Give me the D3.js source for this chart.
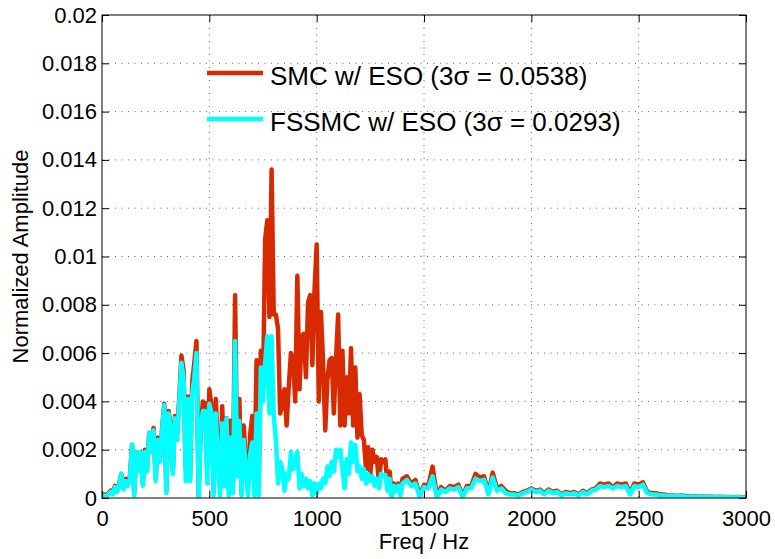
<!DOCTYPE html>
<html lang="en">
<head>
    <meta charset="utf-8">
    <title>Spectrum</title>
    <style type="text/css">
        body { margin: 0; background: #fff; }
        svg { font-family: "Liberation Sans", Arial, sans-serif; }
    </style>
</head>
<body>
   <svg class="svg_spec" width="775" height="559"></svg>

   <script src="https://d3js.org/d3.v7.min.js"></script>
   <script>
        // x grid: 10 Hz steps up to 1400 Hz, 20 Hz steps after that
        var freqLow = d3.range(0, 1400, 10),
            freqHigh = d3.range(1400, 3001, 20);

        // amplitudes in units of 1e-3
        var smcLow = [
            0.1,0.15,0.1,0.2,0.3,0.2,0.5,0.3,0.6,1.0,
            0.4,0.8,0.6,0.9,2.2,0.2,1.9,1.2,1.9,0.6,
            2.0,1.2,2.7,2.0,2.9,0.8,2.5,1.6,2.9,3.9,
            0.3,3.6,3.0,1.1,3.4,2.6,4.2,5.9,5.3,1.2,
            4.2,0.8,4.8,5.6,6.5,0.1,3.0,4.0,3.9,1.2,
            4.5,3.8,0.3,4.1,2.0,0.5,3.8,1.0,3.3,0.4,
            3.2,0.5,8.4,1.2,4.1,0.2,3.0,1.5,0.4,2.6,
            3.4,0.6,5.7,0.4,6.1,4.5,10.7,11.5,7.5,13.6,
            7.6,7.6,7.0,3.5,3.9,4.5,3.0,4.6,6.0,5.8,
            4.0,9.2,4.5,6.7,6.8,5.0,8.1,8.4,5.5,8.6,
            10.5,4.0,7.7,5.6,2.8,4.9,5.7,5.8,3.5,5.7,
            7.6,3.0,6.1,3.0,5.0,3.5,6.2,3.0,5.4,2.5,
            4.3,2.6,2.4,1.2,2.1,1.0,2.0,1.5,1.7,0.6,
            1.6,1.5,1.6,0.5,1.1,0.1,0.6,0.4,0.6,0.2
        ];
        var smcHigh = [
            0.8,0.9,0.6,0.75,0.1,0.55,0.5,1.3,0.1,0.45,
            0.3,0.5,0.45,0.55,0.1,0.5,0.5,1.0,0.85,0.9,
            0.2,1.05,0.4,0.5,0.3,0.2,0.2,0.15,0.25,0.3,
            0.4,0.3,0.35,0.2,0.35,0.25,0.3,0.15,0.25,0.2,
            0.25,0.15,0.3,0.2,0.35,0.4,0.6,0.55,0.6,0.45,
            0.6,0.55,0.6,0.2,0.6,0.55,0.65,0.25,0.2,0.2,
            0.15,0.15,0.1,0.1,0.08,0.1,0.08,0.06,0.08,0.05,
            0.06,0.05,0.05,0.04,0.05,0.04,0.04,0.03,0.04,0.03,
            0.03
        ];
        var fssmcLow = [
            0.05,0.1,0.05,0.15,0.25,0.15,0.45,0.25,0.55,1.0,
            0.35,0.7,0.5,0.8,2.2,0.1,1.9,1.1,1.9,0.5,
            1.9,1.1,2.7,1.9,2.8,0.7,2.4,1.5,2.8,3.85,
            0.2,3.5,2.9,1.0,3.3,2.4,4.0,5.6,5.0,0.7,
            4.1,0.7,4.3,5.0,6.0,0.0,2.9,3.6,3.6,0.6,
            3.9,3.5,0.1,3.5,1.5,0.1,3.1,0.5,3.3,0.1,
            2.5,0.2,6.5,0.9,3.2,0.1,2.4,1.2,0.1,1.8,
            2.3,0.1,3.5,0.1,5.4,4.0,5.6,6.7,3.5,6.7,
            3.4,2.4,0.6,1.5,1.2,0.3,1.0,0.8,1.9,1.2,
            1.6,1.9,0.4,1.0,0.5,0.8,0.4,0.7,0.1,0.6,
            0.2,0.6,0.4,0.8,0.6,1.3,0.9,1.5,1.1,2.0,
            1.7,2.0,1.2,0.4,1.6,1.0,2.3,1.5,2.2,1.1,
            1.3,0.8,1.2,0.6,1.0,0.7,0.9,0.5,0.8,0.4,
            1.0,0.9,0.95,0.3,0.8,0.0,0.5,0.3,0.5,0.1
        ];
        var fssmcHigh = [
            0.6,0.75,0.5,0.6,0.05,0.45,0.4,0.9,0.05,0.35,
            0.25,0.4,0.35,0.45,0.05,0.4,0.4,0.8,0.7,0.75,
            0.15,0.85,0.3,0.4,0.2,0.15,0.15,0.1,0.2,0.25,
            0.35,0.25,0.3,0.15,0.3,0.2,0.25,0.1,0.2,0.15,
            0.2,0.1,0.25,0.15,0.3,0.35,0.5,0.45,0.5,0.4,
            0.5,0.45,0.5,0.15,0.5,0.45,0.55,0.2,0.15,0.15,
            0.1,0.1,0.08,0.08,0.06,0.08,0.06,0.05,0.06,0.04,
            0.05,0.04,0.04,0.03,0.04,0.03,0.03,0.02,0.03,0.02,
            0.02
        ];

        var xTicks = [0, 500, 1000, 1500, 2000, 2500, 3000];
        var yTicks = [0, 0.002, 0.004, 0.006, 0.008, 0.01, 0.012, 0.014, 0.016, 0.018, 0.02];
        var legendLabels = ['SMC w/ ESO (3\u03c3 = 0.0538)', 'FSSMC w/ ESO (3\u03c3 = 0.0293)'];
        var colors = ['#d82a00', '#00ffff'];

        // build point lists
        function toPoints(lo, hi) {
            var pts = freqLow.map(function(f, i) { return [f, lo[i] / 1000]; });
            return pts.concat(freqHigh.map(function(f, i) { return [f, hi[i] / 1000]; }));
        }
        var series = [toPoints(smcLow, smcHigh), toPoints(fssmcLow, fssmcHigh)];

        var svg = d3.select('.svg_spec'),
            padding = {top: 15, right: 29, bottom: 61, left: 102},
            w = 775 - padding.left - padding.right,
            h = 559 - padding.top - padding.bottom;

        var g = svg.append('g')
            .attr('transform', 'translate(' + padding.left + ',' + padding.top + ')');

        var x = d3.scaleLinear().domain([0, 3000]).range([0, w]);
        var y = d3.scaleLinear().domain([0, 0.02]).range([h, 0]);

        // dotted grid
        g.append('g').selectAll('line').data(xTicks.slice(1, -1)).enter().append('line')
            .attr('x1', x).attr('x2', x).attr('y1', 0).attr('y2', h)
            .attr('stroke', '#666').attr('stroke-dasharray', '1,5.5');
        g.append('g').selectAll('line').data(yTicks.slice(1, -1)).enter().append('line')
            .attr('y1', y).attr('y2', y).attr('x1', 0).attr('x2', w)
            .attr('stroke', '#666').attr('stroke-dasharray', '1,5.5');

        g.append('clipPath').attr('id', 'clip')
            .append('rect').attr('width', w).attr('height', h);

        var line = d3.line()
            .x(function(d) { return x(d[0]); })
            .y(function(d) { return y(d[1]); });

        g.append('g').attr('clip-path', 'url(#clip)')
            .selectAll('path').data(series).enter().append('path')
            .attr('d', line)
            .attr('fill', 'none')
            .attr('stroke', function(d, i) { return colors[i]; })
            .attr('stroke-width', 4.5)
            .attr('stroke-linejoin', 'round');

        // axes, ticks pointing inward
        var fmt = function(d) { return String(+d.toFixed(3)); };
        var axB = g.append('g').attr('transform', 'translate(0,' + h + ')')
            .call(d3.axisBottom(x).tickValues(xTicks).tickFormat(d3.format('d')).tickSize(-7).tickPadding(12));
        var axL = g.append('g')
            .call(d3.axisLeft(y).tickValues(yTicks).tickFormat(fmt).tickSize(-7).tickPadding(5));
        var axT = g.append('g')
            .call(d3.axisTop(x).tickValues(xTicks).tickFormat('').tickSize(-7));
        var axR = g.append('g').attr('transform', 'translate(' + w + ',0)')
            .call(d3.axisRight(y).tickValues(yTicks).tickFormat('').tickSize(-7));

        [axB, axL, axT, axR].forEach(function(a) {
            a.select('.domain').remove();
            a.selectAll('text').attr('font-size', 22).attr('font-family', null).attr('fill', '#000');
            a.selectAll('line').attr('stroke', '#000');
        });

        g.append('rect').attr('width', w).attr('height', h)
            .attr('fill', 'none').attr('stroke', '#000').attr('stroke-width', 1);

        // axis labels
        svg.append('text')
            .attr('x', padding.left + w / 2).attr('y', 549)
            .attr('text-anchor', 'middle').attr('font-size', 22)
            .text('Freq / Hz');
        svg.append('text')
            .attr('transform', 'translate(28,' + (padding.top + h / 2) + ') rotate(-90)')
            .attr('text-anchor', 'middle').attr('font-size', 22)
            .text('Normalized Amplitude');

        // legend (no box)
        var leg = svg.append('g').selectAll('g').data(legendLabels).enter().append('g')
            .attr('transform', function(d, i) { return 'translate(207,' + (73 + i * 46) + ')'; });
        leg.append('line')
            .attr('x1', 0).attr('x2', 56)
            .attr('stroke', function(d, i) { return colors[i]; })
            .attr('stroke-width', 4.5);
        leg.append('text')
            .attr('x', 63).attr('y', 12)
            .attr('font-size', 26)
            .text(function(d) { return d; });
   </script>
</body>
</html>
